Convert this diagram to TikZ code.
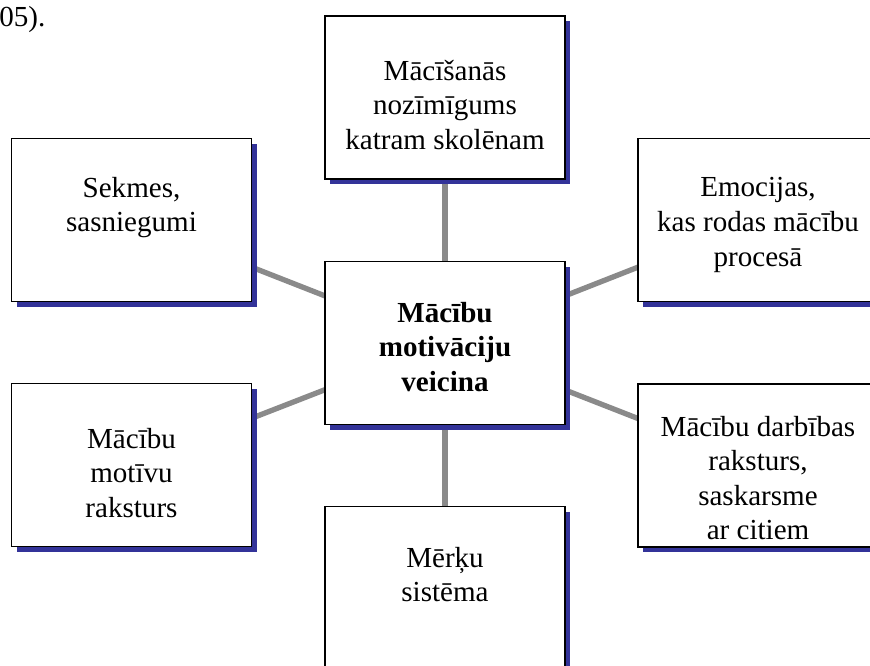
\documentclass[tikz,border=0pt]{standalone}
\usepackage{fontspec}
\setmainfont{Liberation Serif}
\usetikzlibrary{shadows,backgrounds}
\definecolor{enaszila}{RGB}{51,51,153}
\definecolor{saitespeleks}{RGB}{138,138,138}

\begin{document}
\begin{tikzpicture}[x=0.75pt,y=-0.75pt,
  kaste/.style={draw, rectangle, fill=white, line width=1.1pt, minimum width=180pt, minimum height=122.25pt, inner sep=0pt,
    drop shadow={shadow xshift=4pt, shadow yshift=-4pt, fill=enaszila, opacity=1}},
  teksts/.style={align=center, inner sep=0pt, font=\fontsize{21.8}{25.9}\selectfont},
  saite/.style={draw, line width=4pt, saitespeleks}]
\useasboundingbox (0,0) rectangle (870,666);
\node[teksts, anchor=base west] (avots) at (-1,27) {05).};
% kastes
\node[kaste] (centrs) at (445,343) {};
\node[kaste] (macisana) at (445,97.5) {};
\node[kaste] (sekmes) at (131.5,220) {};
\node[kaste] (emocijas) at (758,220) {};
\node[kaste] (motivi) at (131.5,465) {};
\node[kaste] (darbiba) at (758,465.5) {};
\node[kaste] (merki) at (445,588) {};
% teksti
\node[teksts, font=\fontsize{21.8}{25.9}\selectfont\bfseries] (centrsT) at (445,347) {Mācību\\motivāciju\\veicina};
\node[teksts] (macisanaT) at (445,105) {Mācīšanās\\nozīmīgums\\katram skolēnam};
\node[teksts] (sekmesT) at (131.5,207.5) {Sekmes,\\sasniegumi};
\node[teksts] (emocijasT) at (758,225) {Emocijas,\\kas rodas mācību\\procesā};
\node[teksts] (motiviT) at (131.5,473) {Mācību\\motīvu\\raksturs};
\node[teksts] (darbibaT) at (758,478) {Mācību darbības\\raksturs,\\saskarsme\\ar citiem};
\node[teksts] (merkiT) at (445,574.5) {Mērķu\\sistēma};
% saites
\begin{scope}[on background layer]
\path[saite] (centrs.center) -- (macisana.center);
\path[saite] (centrs.center) -- (sekmes.center);
\path[saite] (centrs.center) -- (emocijas.center);
\path[saite] (centrs.center) -- (motivi.center);
\path[saite] (centrs.center) -- (darbiba.center);
\path[saite] (centrs.center) -- (merki.center);
\end{scope}
\end{tikzpicture}
\end{document}
